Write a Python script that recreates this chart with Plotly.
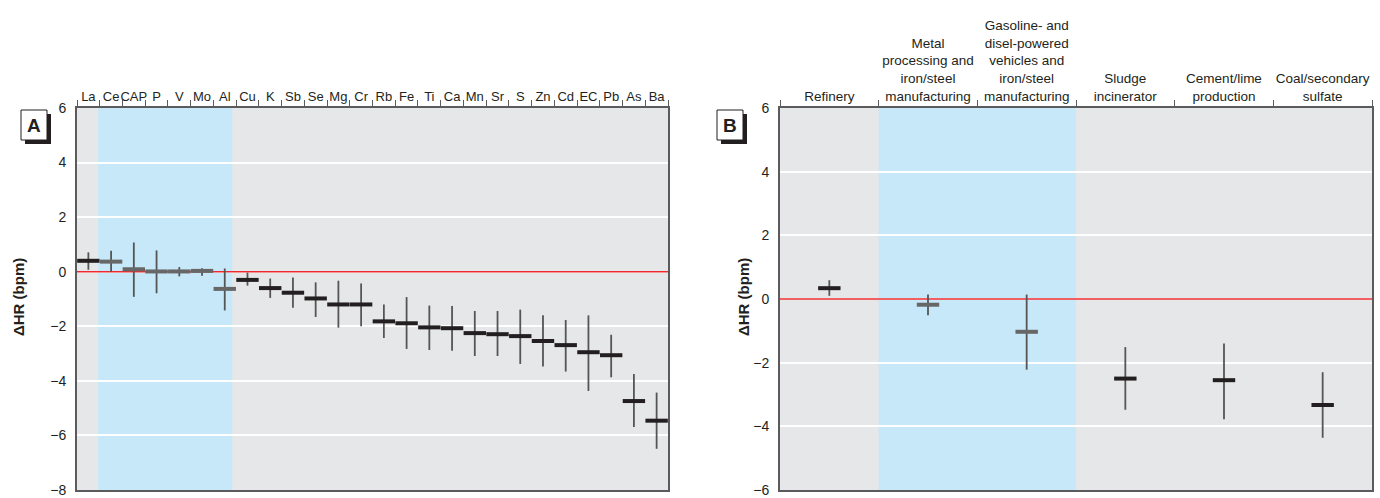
import plotly.graph_objects as go

# ---------------- data ----------------
cats_a = ["La", "Ce", "CAP", "P", "V", "Mo", "Al", "Cu", "K", "Sb", "Se", "Mg", "Cr",
          "Rb", "Fe", "Ti", "Ca", "Mn", "Sr", "S", "Zn", "Cd", "EC", "Pb", "As", "Ba"]
est_a = [0.40, 0.37, 0.09, 0.01, 0.01, 0.03, -0.63, -0.30, -0.60, -0.77, -0.98, -1.20, -1.20,
         -1.82, -1.89, -2.04, -2.07, -2.25, -2.29, -2.36, -2.54, -2.69, -2.95, -3.06, -4.74, -5.46]
lo_a = [0.07, 0.00, -0.92, -0.79, -0.17, -0.15, -1.42, -0.51, -0.96, -1.32, -1.66, -2.05, -2.00,
        -2.43, -2.83, -2.87, -2.90, -3.09, -3.09, -3.38, -3.47, -3.66, -4.37, -3.87, -5.69, -6.49]
hi_a = [0.71, 0.77, 1.07, 0.78, 0.17, 0.13, 0.12, -0.03, -0.25, -0.21, -0.39, -0.33, -0.43,
        -1.20, -0.93, -1.24, -1.26, -1.44, -1.44, -1.39, -1.60, -1.77, -1.60, -2.31, -3.75, -4.43]
grey_a = ["Ce", "CAP", "P", "V", "Mo", "Al"]

cats_b = ["Refinery",
          "Metal<br>processing and<br>iron/steel<br>manufacturing",
          "Gasoline- and<br>disel-powered<br>vehicles and<br>iron/steel<br>manufacturing",
          "Sludge<br>incinerator",
          "Cement/lime<br>production",
          "Coal/secondary<br>sulfate"]
est_b = [0.34, -0.18, -1.03, -2.50, -2.55, -3.33]
lo_b = [0.10, -0.51, -2.22, -3.48, -3.78, -4.36]
hi_b = [0.59, 0.14, 0.14, -1.51, -1.40, -2.30]
grey_b = [cats_b[1], cats_b[2]]

yticks_a = [-8, -6, -4, -2, 0, 2, 4, 6]
yticks_b = [-6, -4, -2, 0, 2, 4, 6]

# ---------------- style ----------------
FONT = "Liberation Sans Narrow, Arial Narrow, Liberation Sans, Arial, sans-serif"
BLACK = "#231f20"
GREY = "#676767"
ERR = "#555555"
AXIS = "#5b5b5d"
BG = "#e6e7e8"
BLUE = "#c7e8f8"
RED = "#ee2a2f"
W, H = 1380, 498


def px(x):
    return x / W


def py(y):
    return 1 - y / H


fig = go.Figure()


def add_panel(cats, est, lo, hi, grey, xa, ya):
    colors = [GREY if c in grey else BLACK for c in cats]
    fig.add_trace(go.Scatter(
        x=cats, y=est, mode="markers", xaxis=xa, yaxis=ya,
        marker=dict(symbol="line-ew", size=16, color=colors,
                    line=dict(width=4, color=colors)),
        error_y=dict(type="data", symmetric=False,
                     array=[h - e for h, e in zip(hi, est)],
                     arrayminus=[e - l for e, l in zip(est, lo)],
                     width=0, thickness=1.8, color=ERR),
        showlegend=False, hoverinfo="skip"))


add_panel(cats_a, est_a, lo_a, hi_a, grey_a, "x", "y")
add_panel(cats_b, est_b, lo_b, hi_b, grey_b, "x2", "y2")

ydom = [py(490), py(108)]
xcommon = dict(type="category", side="top", tickson="boundaries", ticks="outside",
               ticklen=6, tickwidth=1, tickcolor=AXIS, showline=True, mirror=True,
               linecolor=AXIS, linewidth=2, showgrid=False, zeroline=False, tickangle=0,
               automargin=False, fixedrange=True)
ycommon = dict(dtick=2, showgrid=True, gridcolor="white", gridwidth=1.5, zeroline=False,
               showline=True, mirror=True, linecolor=AXIS, linewidth=2, ticks="",
               ticklabelstandoff=6, ticklabeloverflow="allow",
               tickfont=dict(family=FONT, size=14, color=BLACK), automargin=False,
               fixedrange=True, domain=ydom)

fig.update_layout(
    width=W, height=H, margin=dict(l=0, r=0, t=0, b=0),
    paper_bgcolor="white", plot_bgcolor=BG,
    font=dict(family=FONT, color=BLACK),
    xaxis=dict(xcommon, domain=[px(77), px(668)], range=[-0.5, len(cats_a) - 0.5], anchor="y",
               tickfont=dict(family=FONT, size=13, color=BLACK)),
    yaxis=dict(ycommon, range=[-8, 6], tickvals=yticks_a, anchor="x"),
    xaxis2=dict(xcommon, domain=[px(780), px(1372)], range=[-0.5, len(cats_b) - 0.5], anchor="y2",
                tickfont=dict(family=FONT, size=13.5, color=BLACK)),
    yaxis2=dict(ycommon, range=[-6, 6], tickvals=yticks_b, anchor="x2"),
)

shapes = [
    dict(type="rect", xref="x", yref="y", x0=0.43, x1=6.33, y0=-8, y1=6,
         fillcolor=BLUE, line=dict(width=0), layer="below"),
    dict(type="rect", xref="x2", yref="y2", x0=0.5, x1=2.5, y0=-6, y1=6,
         fillcolor=BLUE, line=dict(width=0), layer="below"),
    dict(type="line", xref="x", yref="y", x0=-0.5, x1=len(cats_a) - 0.5, y0=0, y1=0,
         line=dict(color=RED, width=1.5), layer="between"),
    dict(type="line", xref="x2", yref="y2", x0=-0.5, x1=len(cats_b) - 0.5, y0=0, y1=0,
         line=dict(color=RED, width=1.5), layer="between"),
]
annotations = []
for label, bx, by in [("A", 21, 110), ("B", 717, 110)]:
    shapes.append(dict(type="rect", xref="paper", yref="paper",
                       x0=px(bx + 4), x1=px(bx + 30), y0=py(by + 34), y1=py(by + 4),
                       fillcolor=BLACK, line=dict(width=0), layer="above"))
    shapes.append(dict(type="rect", xref="paper", yref="paper",
                       x0=px(bx), x1=px(bx + 26), y0=py(by + 30), y1=py(by),
                       fillcolor="white", line=dict(width=1, color=BLACK), layer="above"))
    annotations.append(dict(xref="paper", yref="paper", x=px(bx + 13), y=py(by + 15),
                            text="<b>%s</b>" % label, showarrow=False,
                            font=dict(family="Liberation Sans, Arial, sans-serif", size=19, color=BLACK),
                            xanchor="center", yanchor="middle"))

for tx in [18, 743]:
    annotations.append(dict(xref="paper", yref="paper", x=px(tx), y=py(297),
                            text="<b>ΔHR (bpm)</b>", showarrow=False, textangle=-90,
                            font=dict(family=FONT, size=15, color=BLACK),
                            xanchor="center", yanchor="middle"))

fig.update_layout(shapes=shapes, annotations=annotations)
fig.write_html("out.html", config={"displayModeBar": False},
               post_script="document.body.style.margin='0px';document.body.style.overflow='hidden';")
